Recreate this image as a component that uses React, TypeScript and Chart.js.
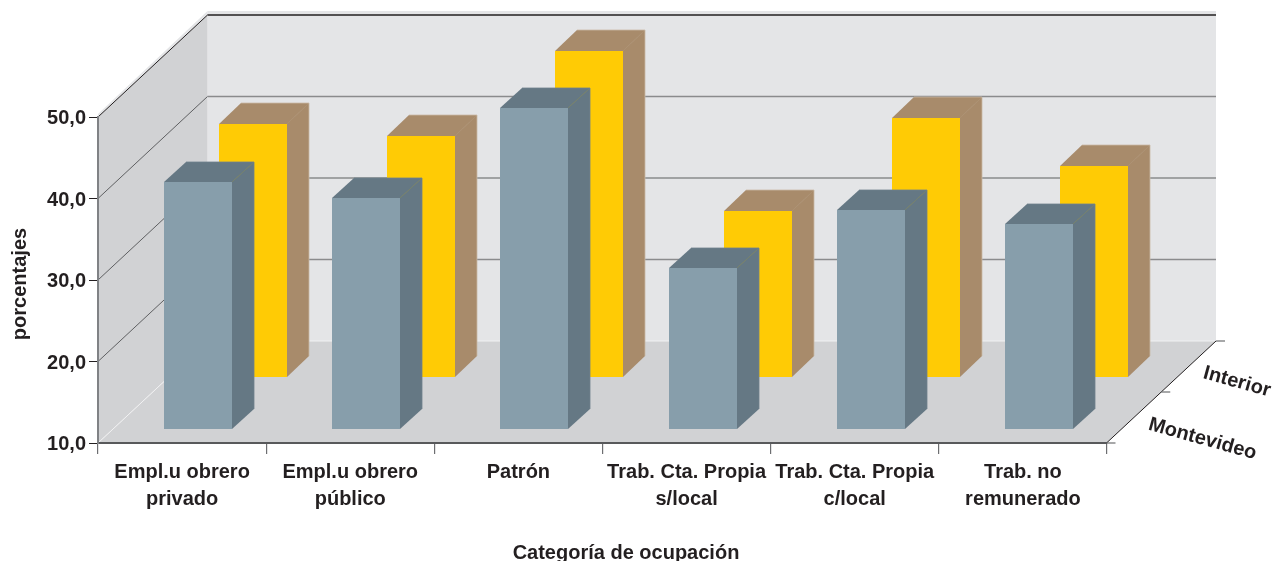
import React, { useEffect, useRef } from "react";
import { Chart, registerables } from "chart.js";

Chart.register(...registerables);

const categories = [
  ["Empl.u obrero", "privado"],
  ["Empl.u obrero", "público"],
  ["Patrón"],
  ["Trab. Cta. Propia", "s/local"],
  ["Trab. Cta. Propia", "c/local"],
  ["Trab. no", "remunerado"],
];
const montevideo = [40.3, 38.3, 49.4, 29.7, 36.9, 35.2];
const interior = [41.0, 39.6, 50.0, 30.4, 41.8, 35.9];
const seriesNames = ["Montevideo", "Interior"];
const yTitle = "porcentajes";
const xTitle = "Categoría de ocupación";

const W = 1273;
const H = 561;
const FONT = '"Liberation Sans", Arial, sans-serif';
const FONT_SIZE = 20;
const TEXT = "#231f20";
const DX = 109.5;
const DY = -102;
const AREA_RIGHT = 1107;
const SHIFT = [
  { x: 16, y: -14, dx: 22, dy: -20 },
  { x: 71, y: -66, dx: 22, dy: -21 },
];
const STYLE = [
  { side: "#657884", edge: "#6e7d72", outer: "#6f818d" },
  { side: "#a88b6b", edge: "#a88b6b", outer: "#c9b9a6" },
];

function poly(ctx: CanvasRenderingContext2D, pts: number[][], fill: string) {
  ctx.beginPath();
  pts.forEach(([x, y], i) => (i ? ctx.lineTo(x, y) : ctx.moveTo(x, y)));
  ctx.closePath();
  ctx.fillStyle = fill;
  ctx.fill();
}

function seg(ctx: CanvasRenderingContext2D, x1: number, y1: number, x2: number, y2: number, color: string, w: number) {
  ctx.beginPath();
  ctx.moveTo(x1, y1);
  ctx.lineTo(x2, y2);
  ctx.strokeStyle = color;
  ctx.lineWidth = w;
  ctx.stroke();
}

const box3d = {
  id: "box3d",
  beforeDraw(chart: any) {
    const { ctx, chartArea: a, scales } = chart;
    const y = scales.y;
    const r = a.right - 0.5;
    ctx.save();
    poly(ctx, [[a.left + DX, a.top + DY - 4], [r + DX, a.top + DY - 4], [r + DX, a.bottom + DY], [a.left + DX, a.bottom + DY]], "#e4e5e7");
    poly(ctx, [[a.left, a.top - 3], [a.left + DX, a.top + DY - 4], [a.left + DX, a.top + DY], [a.left, a.top]], "#e4e5e7");
    poly(ctx, [[a.left, a.top], [a.left + DX, a.top + DY], [a.left + DX, a.bottom + DY], [a.left, a.bottom]], "#d1d2d4");
    poly(ctx, [[a.left, a.bottom], [a.left + DX, a.bottom + DY], [r + DX, a.bottom + DY], [r, a.bottom]], "#d1d2d4");
    y.ticks.forEach((t: any) => {
      const py = y.getPixelForValue(t.value);
      const isBase = t.value === y.min;
      const isTop = t.value === y.max;
      const leftColor = isBase ? "#f1f1f2" : isTop ? "#231f20" : "#5f6062";
      const backColor = isBase ? "#f1f1f2" : isTop ? "#231f20" : "#8a8b8d";
      seg(ctx, a.left, py, a.left + DX, py + DY, leftColor, 1);
      seg(ctx, a.left + DX, py + DY, r + DX, py + DY, backColor, isBase ? 1 : 1.6);
    });
    seg(ctx, r, a.bottom, r + DX, a.bottom + DY, "#231f20", 1);
    [0, 0.5, 1].forEach((f) => {
      const px = r + DX * f;
      const py = a.bottom + DY * f;
      seg(ctx, px, py, px + 9, py, "#6d6e71", 1.2);
    });
    ctx.restore();
  },
  beforeDatasetDraw(chart: any, args: any) {
    const { ctx } = chart;
    const i = args.index;
    const s = SHIFT[i];
    const st = STYLE[i];
    const face = args.meta.controller.getDataset().backgroundColor;
    ctx.save();
    args.meta.data.forEach((el: any) => {
      const p = el.getProps(["x", "y", "base", "width"], true);
      const left = Math.round(p.x + s.x - p.width / 2);
      const right = left + p.width;
      const top = Math.round(p.y + s.y);
      const base = Math.round(p.base + s.y);
      poly(ctx, [[right, top], [right + s.dx, top + s.dy], [right + s.dx, base + s.dy], [right, base]], st.side);
      poly(ctx, [[left, top], [left + s.dx, top + s.dy], [right + s.dx, top + s.dy], [right, top]], st.side);
      ctx.fillStyle = face;
      ctx.fillRect(left, top, p.width, base - top);
      seg(ctx, right, top, right + s.dx, top + s.dy, st.edge, 0.8);
      seg(ctx, left + s.dx, top + s.dy, right + s.dx, top + s.dy, st.outer, 0.8);
      seg(ctx, right + s.dx, top + s.dy, right + s.dx, base + s.dy, st.outer, 0.8);
    });
    ctx.restore();
    return false;
  },
  afterDraw(chart: any) {
    const { ctx, scales } = chart;
    const y = scales.y;
    ctx.save();
    ctx.fillStyle = TEXT;
    ctx.textBaseline = "middle";
    ctx.font = `bold ${FONT_SIZE}px ${FONT}`;
    ctx.textAlign = "right";
    y.ticks.forEach((t: any) => {
      ctx.fillText(t.label, 86, y.getPixelForValue(t.value) + 1.5);
    });
    ctx.textAlign = "center";
    ctx.save();
    ctx.translate(1202.5, 439);
    ctx.rotate((15.5 * Math.PI) / 180);
    ctx.fillText(seriesNames[0], 0, 0);
    ctx.restore();
    ctx.save();
    ctx.translate(1237, 382);
    ctx.rotate((15.5 * Math.PI) / 180);
    ctx.fillText(seriesNames[1], 0, 0);
    ctx.restore();
    ctx.fillText(xTitle, 626, 553);
    ctx.save();
    ctx.translate(20, 284);
    ctx.rotate(-Math.PI / 2);
    ctx.fillText(yTitle, 0, 0);
    ctx.restore();
    ctx.restore();
  },
};

export default function App() {
  const ref = useRef<HTMLCanvasElement>(null);
  useEffect(() => {
    const chart = new Chart(ref.current!, {
      type: "bar",
      data: {
        labels: categories,
        datasets: [
          { label: seriesNames[0], data: montevideo, backgroundColor: "#879eab", grouped: false, barThickness: 68, base: 10 },
          { label: seriesNames[1], data: interior, backgroundColor: "#ffcb05", grouped: false, barThickness: 68, base: 10 },
        ],
      } as any,
      options: {
        responsive: false,
        animation: false,
        layout: { padding: { left: 0, top: 117, right: W - AREA_RIGHT, bottom: 0 } },
        plugins: { legend: { display: false }, tooltip: { enabled: false } },
        scales: {
          x: {
            afterFit: (s: any) => {
              s.height = H - 443;
            },
            grid: { drawOnChartArea: false, drawTicks: true, tickLength: 11, color: "#6d6e71", lineWidth: 1.2 },
            border: { color: "#58595b", width: 2 },
            ticks: {
              color: TEXT,
              font: { family: FONT, size: FONT_SIZE, weight: "bold", lineHeight: 1.35 },
              padding: 5,
              maxRotation: 0,
              autoSkip: false,
            },
          },
          y: {
            min: 10,
            max: 50,
            afterFit: (s: any) => {
              s.width = 98;
            },
            grid: { drawOnChartArea: false, drawTicks: true, tickLength: 9, color: "#231f20", lineWidth: 1 },
            border: { color: "#808285", width: 2 },
            ticks: {
              display: false,
              stepSize: 10,
              callback: (v: any) => Number(v).toFixed(1).replace(".", ","),
            },
          },
        },
      } as any,
      plugins: [box3d],
    });
    return () => chart.destroy();
  }, []);
  return (
    <div style={{ position: "absolute", left: 0, top: 0, width: W, height: H, overflow: "hidden", background: "#fff" }}>
      <canvas ref={ref} width={W} height={H} style={{ display: "block" }} />
    </div>
  );
}
